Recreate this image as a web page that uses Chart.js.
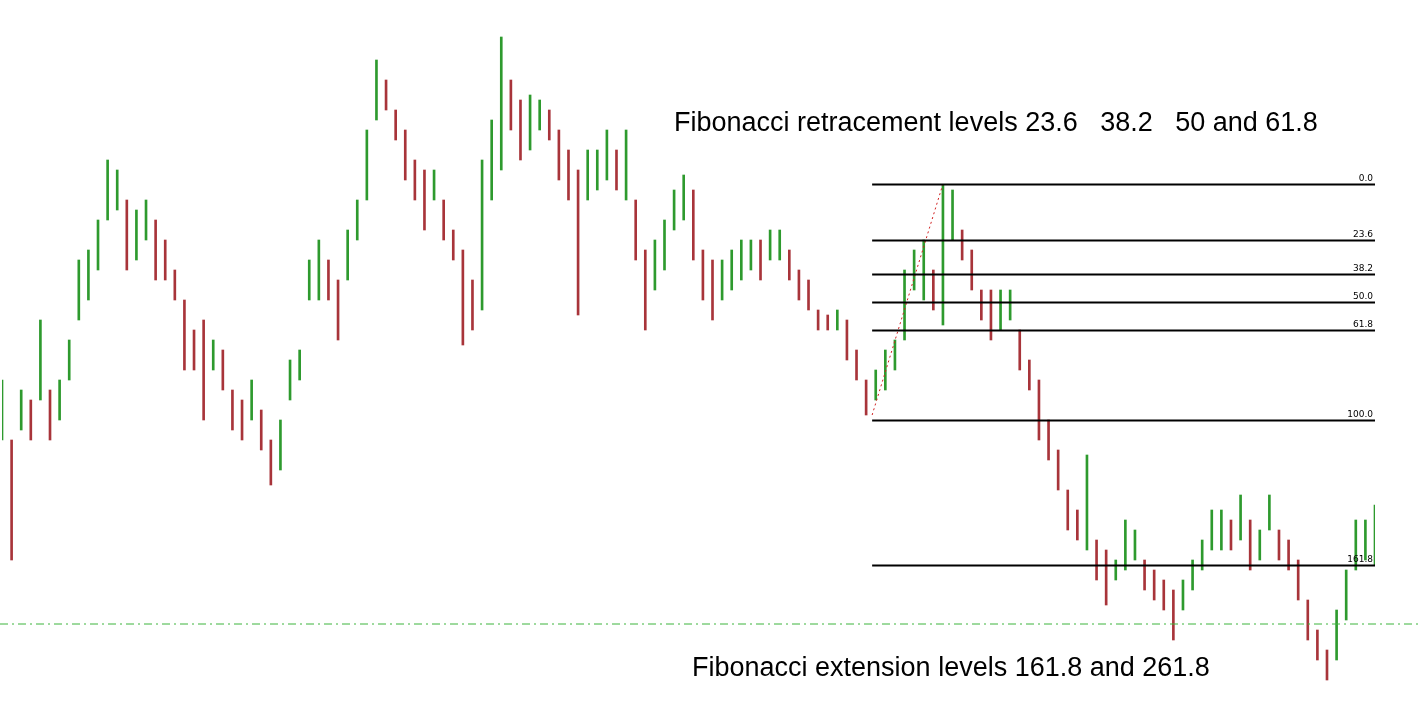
<!DOCTYPE html>
<html>
<head>
<meta charset="utf-8">
<script src="https://cdn.jsdelivr.net/npm/chart.js@4"></script>
<style>
  html, body { margin: 0; padding: 0; background: #fff; }
  #wrap { width: 1421px; height: 719px; }
</style>
</head>
<body>
<div id="wrap"><canvas id="fibChart"></canvas></div>
<script>
// price, in chart units (larger = lower on screen)
var barHigh = [380,440,390,400,320,390,380,340,260,250,220,160,170,200,210,200,220,240,270,300,
  330,320,340,350,390,400,380,410,440,420,360,350,260,240,260,280,230,200,130,60,
  80,110,130,160,170,170,200,230,250,280,160,120,37,80,100,95,100,110,130,150,
  170,150,150,130,150,130,200,250,240,220,190,175,190,250,260,260,250,240,240,240,
  230,230,250,270,280,310,315,310,320,350,380,370,350,340,270,250,240,270,185,190,
  230,250,290,290,290,290,330,360,380,420,450,490,510,455,540,550,560,520,530,560,
  570,580,590,580,560,540,510,510,520,495,520,530,495,530,540,560,600,630,650,610,
  570,520,520,505];
var barLow = [440,560,430,440,400,440,420,380,320,300,270,220,210,270,260,240,280,280,300,370,
  370,420,370,390,430,440,420,450,485,470,400,380,300,300,300,340,280,240,200,120,
  110,140,180,200,230,200,240,260,345,330,310,200,170,130,160,150,130,140,180,200,
  315,200,190,180,190,200,260,330,290,270,230,220,260,300,320,300,290,280,270,280,
  260,260,280,300,310,330,330,330,360,380,415,400,390,370,340,290,300,310,325,240,
  260,290,320,340,330,320,370,390,440,460,490,530,540,550,580,605,580,570,560,590,
  600,610,640,610,590,570,550,550,550,540,570,560,530,560,570,600,640,660,680,660,
  620,570,560,565];

var fibLevels = ["0.0", "23.6", "38.2", "50.0", "61.8", "100.0", "161.8"];
var fibPrices = [184, 240, 274, 302, 330, 420, 565];
var fibStartBar = 90;
var extPrice = 624;

var labels = barHigh.map(function (v, i) { return i; });
var barData = barHigh.map(function (h, i) { return [barLow[i], h]; });
var barColors = barHigh.map(function (h, i) {
  var mid = (h + barLow[i]) / 2;
  var prev = i > 0 ? (barHigh[i - 1] + barLow[i - 1]) / 2 : mid;
  return mid <= prev ? "#2e9a2e" : "#a8343a";
});

var fibPlugin = {
  id: "fib",
  afterDatasetsDraw: function (chart) {
    var c = chart.ctx, x = chart.scales.x, y = chart.scales.y;
    var x0 = x.getPixelForValue(fibStartBar) + 6;
    var x1 = chart.chartArea.right + 0;
    c.save();
    // dashed extension line
    c.strokeStyle = "#3cb43c";
    c.lineWidth = 1;
    c.setLineDash([8, 4, 2, 4]);
    c.beginPath();
    c.moveTo(0, y.getPixelForValue(extPrice));
    c.lineTo(chart.width, y.getPixelForValue(extPrice));
    c.stroke();
    // red swing line
    c.strokeStyle = "#d02020";
    c.setLineDash([2, 3]);
    c.beginPath();
    c.moveTo(x0, y.getPixelForValue(415));
    c.lineTo(x.getPixelForValue(98), y.getPixelForValue(fibPrices[0]));
    c.stroke();
    c.setLineDash([]);
    c.strokeStyle = "#000";
    c.lineWidth = 2;
    c.fillStyle = "#000";
    c.font = "9px 'DejaVu Sans'";
    c.textAlign = "right";
    fibPrices.forEach(function (p, i) {
      var py = Math.round(y.getPixelForValue(p)) + 0.5;
      c.beginPath();
      c.moveTo(x0, py);
      c.lineTo(x1, py);
      c.stroke();
      c.fillText(fibLevels[i], x1 - 2, py - 4);
    });
    c.font = "27px 'Liberation Sans'";
    c.textAlign = "left";
    c.fillText("Fibonacci retracement levels 23.6   38.2   50 and 61.8", 674, 131);
    c.fillText("Fibonacci extension levels 161.8 and 261.8", 692, 676);
    c.restore();
  }
};

new Chart(document.getElementById("fibChart").getContext("2d"), {
  type: "bar",
  data: {
    labels: labels,
    datasets: [{
      data: barData,
      backgroundColor: barColors,
      barThickness: 2
    }]
  },
  options: {
    responsive: true,
    maintainAspectRatio: false,
    animation: false,
    layout: { padding: { left: 2, right: 46, top: 0, bottom: 0 } },
    plugins: { legend: { display: false }, tooltip: { enabled: false } },
    scales: {
      x: { display: false, offset: false, grid: { display: false } },
      y: { display: false, reverse: true, min: 0, max: 719, grid: { display: false } }
    }
  },
  plugins: [fibPlugin]
});
</script>
</body>
</html>
